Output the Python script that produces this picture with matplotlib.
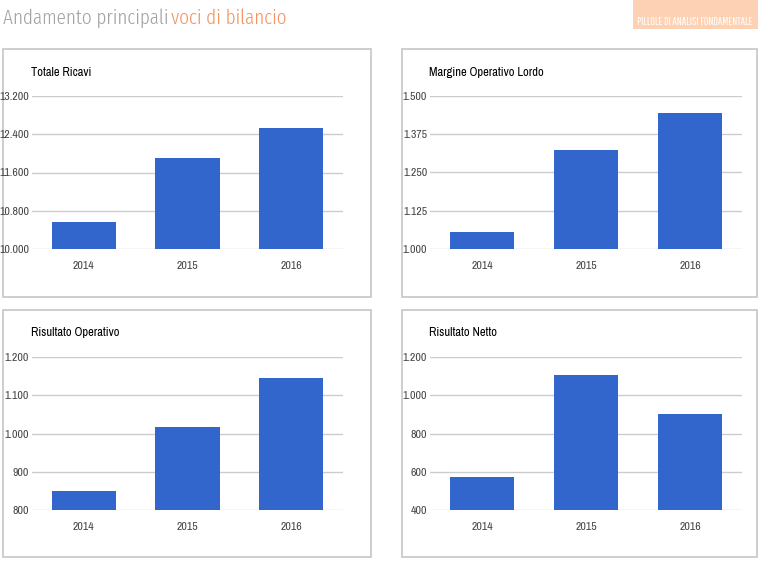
import matplotlib
matplotlib.use("Agg")
import matplotlib.pyplot as plt
from matplotlib.patches import Rectangle
from matplotlib.text import Annotation
from matplotlib.ticker import FuncFormatter

# data
anni = ["2014", "2015", "2016"]
ricavi = [10556, 11903, 12530]
mol = [1056, 1322, 1445]
ris_operativo = [850, 1018, 1146]
ris_netto = [574, 1104, 904]

titoli = ["Totale Ricavi", "Margine Operativo Lordo", "Risultato Operativo", "Risultato Netto"]
valori = [ricavi, mol, ris_operativo, ris_netto]
limiti = [(10000, 13200, 800), (1000, 1500, 125), (800, 1200, 100), (400, 1200, 200)]

W, H = 758, 564
BLU = "#3366cc"
narrow = ["Archivo Narrow", "DejaVu Sans"]
light = ["Fira Sans Extra Condensed", "DejaVu Sans"]
gothic = ["Pathway Gothic One", "Oswald", "Fira Sans Extra Condensed", "DejaVu Sans"]

fig = plt.figure(figsize=(W / 100, H / 100), dpi=100)
fig.patch.set_facecolor("white")


def fx(x):
    return x / W


def fy(y):
    return 1 - y / H


def migliaia(v, pos):
    return f"{int(round(v)):,}".replace(",", ".")


# header
t1 = fig.text(fx(3), fy(24), "Andamento principali", fontsize=15, color="#a3a3a3",
              family=light, fontweight=300, ha="left", va="baseline")
fig.add_artist(Annotation("voci di bilancio", xy=(1, 0), xycoords=t1, xytext=(2, 0),
                          textcoords="offset points", fontsize=15, color="#f29463",
                          family=light, fontweight=300, ha="left", va="bottom",
                          annotation_clip=False))
fig.patches.append(Rectangle((fx(633), fy(29)), fx(758 - 633), 29 / H,
                             transform=fig.transFigure, facecolor="#fdd2b4",
                             edgecolor="none", zorder=-2))
fig.text(fx(695), fy(25), "PILLOLE DI ANALISI FONDAMENTALE", fontsize=8,
         color="white", family=gothic, ha="center", va="baseline")

# panels: box (left, top, right, bottom) and plot area, in pixels
box = [(3, 49, 371, 297), (402, 49, 757, 297), (3, 310, 371, 557), (402, 310, 757, 557)]
area = [(32, 96, 343, 249), (430, 96, 742, 249), (32, 357, 343, 510), (430, 357, 742, 510)]

for i in range(4):
    bx0, by0, bx1, by1 = box[i]
    fig.patches.append(Rectangle((fx(bx0), fy(by1)), fx(bx1 - bx0), (by1 - by0) / H,
                                 transform=fig.transFigure, facecolor="none",
                                 edgecolor="#c6c6c6", linewidth=1.2, zorder=-1))
    x0, y0, x1, y1 = area[i]
    ax = fig.add_axes([fx(x0), fy(y1), fx(x1 - x0), (y1 - y0) / H])
    ax.patch.set_alpha(0)
    ax.bar(range(len(anni)), valori[i], width=0.62, color=BLU, zorder=2)
    lo, hi, step = limiti[i]
    ax.set_ylim(lo, hi)
    ax.set_xlim(-0.5, 2.5)
    ax.set_yticks(range(lo, hi + 1, step))
    ax.yaxis.set_major_formatter(FuncFormatter(migliaia))
    ax.set_xticks(range(len(anni)))
    ax.set_xticklabels(anni)
    ax.grid(axis="y", color="#cccccc", linewidth=1, zorder=0)
    ax.set_axisbelow(True)
    for s in ax.spines.values():
        s.set_visible(False)
    ax.tick_params(length=0, labelsize=8.5, labelcolor="#444444")
    ax.tick_params(axis="x", pad=9)
    ax.tick_params(axis="y", pad=2)
    for lab in ax.get_xticklabels() + ax.get_yticklabels():
        lab.set_family(narrow)
    fig.text(fx(x0 - 1), fy(y0 - 24), titoli[i], fontsize=9, color="black",
             family=narrow, ha="left", va="center")

fig.savefig("out.png", dpi=100)
